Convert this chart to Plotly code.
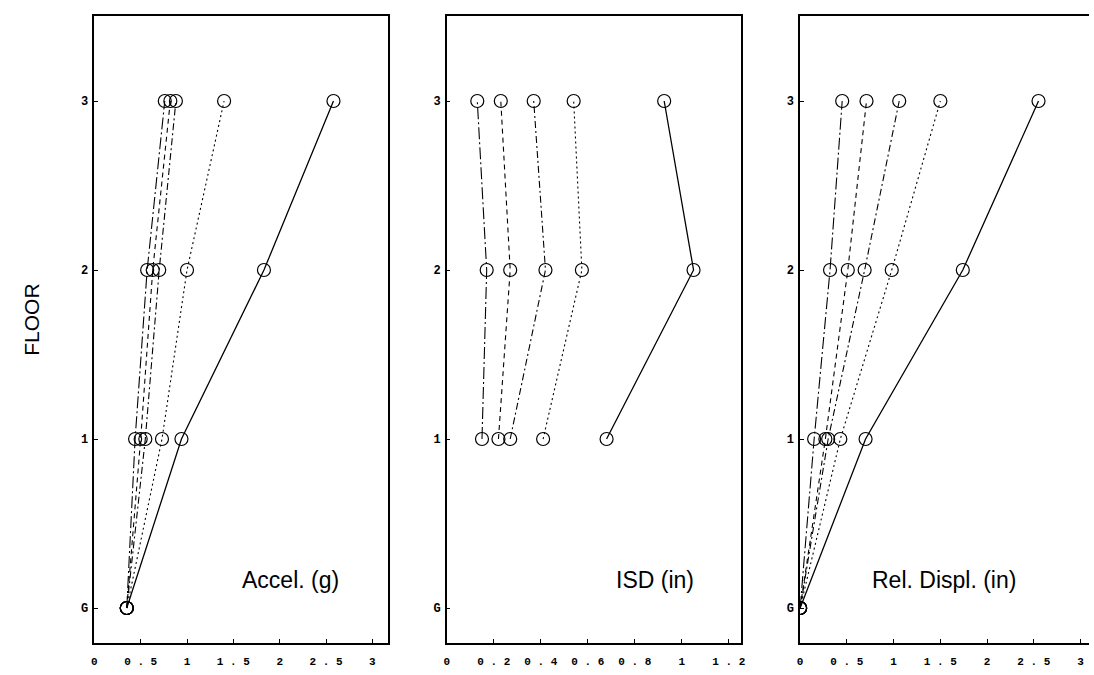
import plotly.graph_objects as go

# ---- data ----
floors_full = [0, 1, 2, 3]          # G, 1, 2, 3
floors_isd = [1, 2, 3]
floor_labels = ["G", "1", "2", "3"]

accel_s1 = [0.35, 0.44, 0.57, 0.76]
accel_s2 = [0.35, 0.50, 0.63, 0.82]
accel_s3 = [0.35, 0.55, 0.70, 0.88]
accel_s4 = [0.35, 0.73, 1.00, 1.40]
accel_s5 = [0.35, 0.94, 1.83, 2.58]

isd_s1 = [0.15, 0.17, 0.13]
isd_s2 = [0.22, 0.27, 0.23]
isd_s3 = [0.27, 0.42, 0.37]
isd_s4 = [0.41, 0.575, 0.54]
isd_s5 = [0.68, 1.05, 0.925]

disp_s1 = [0.0, 0.15, 0.32, 0.45]
disp_s2 = [0.0, 0.27, 0.51, 0.71]
disp_s3 = [0.0, 0.30, 0.69, 1.06]
disp_s4 = [0.0, 0.43, 0.98, 1.50]
disp_s5 = [0.0, 0.70, 1.74, 2.55]

accel_ticks = [0, 0.5, 1, 1.5, 2, 2.5, 3]
accel_ticktext = ["0", "0 . 5", "1", "1 . 5", "2", "2 . 5", "3"]
isd_ticks = [0, 0.2, 0.4, 0.6, 0.8, 1, 1.2]
isd_ticktext = ["0", "0 . 2", "0 . 4", "0 . 6", "0 . 8", "1", "1 . 2"]
disp_ticks = [0, 0.5, 1, 1.5, 2, 2.5, 3]
disp_ticktext = ["0", "0 . 5", "1", "1 . 5", "2", "2 . 5", "3"]

panel_titles = ["Accel. (g)", "ISD (in)", "Rel. Displ. (in)"]

# ---- styles ----
dashes = ["12px,3px,2px,3px", "5px,4px", "7px,3px,2px,3px", "2px,3px", "solid"]
widths = [1.1, 1.1, 1.1, 1.1, 1.3]

W, H = 1094, 675
fig = go.Figure()

panels = [
    ([accel_s1, accel_s2, accel_s3, accel_s4, accel_s5], floors_full, "x", "y"),
    ([isd_s1, isd_s2, isd_s3, isd_s4, isd_s5], floors_isd, "x2", "y2"),
    ([disp_s1, disp_s2, disp_s3, disp_s4, disp_s5], floors_full, "x3", "y3"),
]
for series, fl, xa, ya in panels:
    for i, s in enumerate(series):
        fig.add_trace(go.Scatter(
            x=s, y=fl, xaxis=xa, yaxis=ya, mode="lines+markers",
            line=dict(color="black", width=widths[i], dash=dashes[i]),
            marker=dict(symbol="circle-open", size=13, color="black",
                        line=dict(width=1.2, color="black")),
            showlegend=False, hoverinfo="skip"))

def px(v):
    return v / W

ydom = [1 - 643 / H, 1 - 16 / H]
yrange = [-0.207, 3.503]
tickfont = dict(family="Liberation Mono", size=11, color="black", weight="bold")

xdefs = [
    ("xaxis", [px(92), px(388)], [0, 3.17], accel_ticks, accel_ticktext),
    ("xaxis2", [px(447), px(743)], [0, 1.25], isd_ticks, isd_ticktext),
    ("xaxis3", [px(803), 1.0], [0, 3.09], disp_ticks, disp_ticktext),
]
ydefs = ["yaxis", "yaxis2", "yaxis3"]
anchors = ["y", "y2", "y3"]
xanch = ["x", "x2", "x3"]

for k, (name, dom, rng, tv, tt) in enumerate(xdefs):
    fig.layout[name] = dict(
        domain=dom, range=rng, anchor=anchors[k],
        tickmode="array", tickvals=tv, ticktext=tt,
        ticks="inside", ticklen=4, tickcolor="black", tickwidth=1,
        showline=True, linecolor="black", linewidth=1.5, mirror=True,
        showgrid=False, zeroline=False, tickfont=tickfont,
        ticklabelstandoff=7)
    fig.layout[ydefs[k]] = dict(
        domain=ydom, range=yrange, anchor=xanch[k],
        tickmode="array", tickvals=[0, 1, 2, 3], ticktext=floor_labels,
        ticks="inside", ticklen=4, tickcolor="black", tickwidth=1,
        showline=True, linecolor="black", linewidth=1.5,
        mirror=(k < 2), showgrid=False, zeroline=False,
        ticklabelstandoff=2,
        tickfont=dict(family="Liberation Mono", size=12, color="black",
                      weight="bold"))

annos = [
    dict(x=px(290), y=1 - 580 / H, text=panel_titles[0]),
    dict(x=px(657), y=1 - 580 / H, text=panel_titles[1]),
    dict(x=px(948), y=1 - 580 / H, text=panel_titles[2]),
]
for a in annos:
    fig.add_annotation(xref="paper", yref="paper", showarrow=False,
                       xanchor="center", yanchor="middle",
                       font=dict(family="Liberation Sans", size=23, color="black"),
                       **a)
fig.add_annotation(xref="paper", yref="paper", x=px(28), y=1 - 320 / H,
                   text="FLOOR", textangle=-90, showarrow=False,
                   xanchor="center", yanchor="middle",
                   font=dict(family="Liberation Sans", size=21, color="black"))

fig.update_layout(width=W, height=H, margin=dict(l=0, r=0, t=0, b=0),
                  paper_bgcolor="white", plot_bgcolor="white")
fig.write_html("out.html", config={"displayModeBar": False},
               post_script="document.body.style.margin='0px';"
                           "document.body.style.overflow='hidden';")
